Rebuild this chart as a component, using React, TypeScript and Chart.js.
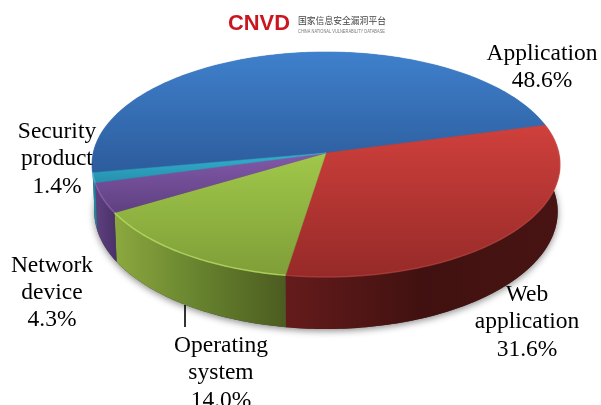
import React, { useEffect, useRef } from "react";
import { Chart, registerables } from "chart.js";

Chart.register(...registerables);

const categories = ["Application", "Web application", "Operating system", "Network device", "Security product"];
const values = [48.6, 31.6, 14.0, 4.3, 1.4];
const valueLabels = ["48.6%", "31.6%", "14.0%", "4.3%", "1.4%"];
const labelLines = [["Application"], ["Web", "application"], ["Operating", "system"], ["Network", "device"], ["Security", "product"]];

// Styling
const topColors = [["#3f80cc", "#2c5c9c"], ["#cf403c", "#962a28"], ["#a0c84a", "#7f9e38"], ["#8259aa", "#5f4080"], ["#33b0cf", "#2590ad"]];
const wallColors = [["#2a4f85", "#2a4f85"], ["#651b1b", "#401110", "#481413"], ["#8ca83f", "#66822e", "#4c5c20"], ["#5f4080", "#4a3168"], ["#2090a8", "#1d7d92"]];
const rimColors = ["rgba(90,140,210,0.15)", "rgba(215,90,85,0.35)", "rgba(185,220,100,0.8)", "rgba(150,110,190,0.6)", "rgba(100,200,225,0.6)"];
const labelCentres = [[542, 53.5, 27.5], [527, 294.5, 27.5], [221, 345.5, 27.5], [52, 265.5, 27], [57, 131.5, 27.5]];

// Projection of the unit disc to the screen (perspective view)
const APEX_X = 326;
const APEX_Y = 153;
const SCALE_X = 232.8;
const SCALE_Y = 111.3;
const TILT = 0.1022;
const DEPTH = 46.7;
const STEP = Math.PI / 180;

const project = (angle: number, r = 1, lower = false) => {
  const u = Math.cos(angle) * r;
  const v = Math.sin(angle) * r;
  const w = 1 - TILT * v;
  const x = APEX_X + (SCALE_X * u) / w;
  const y = APEX_Y + (SCALE_Y * v) / w;
  return lower ? [APEX_X + (x - APEX_X) * 0.99, y + DEPTH / w] : [x, y];
};

const arcPoints = (a0: number, a1: number, lower = false) => {
  const n = Math.max(2, Math.ceil((a1 - a0) / STEP));
  const pts: number[][] = [];
  for (let i = 0; i <= n; i++) pts.push(project(a0 + ((a1 - a0) * i) / n, 1, lower));
  return pts;
};

const tracePoly = (ctx: CanvasRenderingContext2D, pts: number[][]) => {
  ctx.beginPath();
  pts.forEach((p, i) => (i ? ctx.lineTo(p[0], p[1]) : ctx.moveTo(p[0], p[1])));
  ctx.closePath();
};

const gradient = (ctx: CanvasRenderingContext2D, x0: number, y0: number, x1: number, y1: number, colors: string[]) => {
  const g = ctx.createLinearGradient(x0, y0, x1, y1);
  colors.forEach((c, i) => g.addColorStop(i / (colors.length - 1), c));
  return g;
};

const pie3d = {
  id: "pie3d",
  beforeDatasetDraw: () => false,
  afterDatasetsDraw(chart: any) {
    const ctx: CanvasRenderingContext2D = chart.ctx;
    const arcs = chart.getDatasetMeta(0).data as any[];
    ctx.save();

    // soft shadow below the pie
    ctx.save();
    ctx.shadowColor = "rgba(0,0,0,0.45)";
    ctx.shadowBlur = 7;
    ctx.shadowOffsetY = 2;
    ctx.fillStyle = "#444";
    tracePoly(ctx, arcPoints(0, Math.PI * 2, true));
    ctx.fill();
    ctx.restore();

    // walls
    arcs.forEach((arc, i) => {
      const top = arcPoints(arc.startAngle, arc.endAngle);
      const low = arcPoints(arc.startAngle, arc.endAngle, true).reverse();
      const all = [...top, ...low];
      const xs = all.map((p) => p[0]);
      ctx.fillStyle = gradient(ctx, Math.min(...xs), 0, Math.max(...xs), 0, wallColors[i]);
      tracePoly(ctx, all);
      ctx.fill();
    });

    // top faces
    arcs.forEach((arc, i) => {
      const pts = [[APEX_X, APEX_Y], ...arcPoints(arc.startAngle, arc.endAngle)];
      const ys = pts.map((p) => p[1]);
      ctx.fillStyle = gradient(ctx, 0, Math.min(...ys), 0, Math.max(...ys), topColors[i]);
      tracePoly(ctx, pts);
      ctx.fill();
      ctx.strokeStyle = ctx.fillStyle;
      ctx.lineWidth = 0.5;
      ctx.stroke();
    });

    // rim highlight
    arcs.forEach((arc, i) => {
      const pts = arcPoints(arc.startAngle, arc.endAngle);
      ctx.beginPath();
      pts.forEach((p, k) => (k ? ctx.lineTo(p[0], p[1]) : ctx.moveTo(p[0], p[1])));
      ctx.strokeStyle = rimColors[i];
      ctx.lineWidth = 1.5;
      ctx.stroke();
    });

    // leader line
    ctx.strokeStyle = "#000";
    ctx.lineWidth = 1.6;
    ctx.beginPath();
    ctx.moveTo(185, 305);
    ctx.lineTo(185, 327);
    ctx.stroke();

    // labels
    ctx.fillStyle = "#000";
    ctx.font = '23.5px "Liberation Serif"';
    ctx.textAlign = "center";
    ctx.textBaseline = "middle";
    categories.forEach((_, i) => {
      const [cx, cy, lead] = labelCentres[i];
      [...labelLines[i], valueLabels[i]].forEach((t, k) => ctx.fillText(t, cx, cy + k * lead));
    });

    // logo
    ctx.textAlign = "left";
    ctx.textBaseline = "alphabetic";
    ctx.fillStyle = "#c9161f";
    ctx.font = 'bold 22px "Liberation Sans"';
    ctx.fillText("CNVD", 228, 30, 62);
    ctx.fillStyle = "#444";
    ctx.font = '9.5px "Noto Sans CJK SC"';
    ctx.fillText("国家信息安全漏洞平台", 298, 24, 88);
    ctx.fillStyle = "#777";
    ctx.font = '4.5px "Liberation Sans"';
    ctx.fillText("CHINA NATIONAL VULNERABILITY DATABASE", 298, 33, 87);
    ctx.restore();
  },
};

export default function App() {
  const ref = useRef<HTMLCanvasElement>(null);
  useEffect(() => {
    document.body.style.margin = "0";
    const chart = new Chart(ref.current!, {
      type: "pie",
      data: { labels: categories, datasets: [{ data: values, borderWidth: 0 }] },
      options: {
        responsive: false,
        animation: false,
        rotation: 260,
        plugins: { legend: { display: false }, tooltip: { enabled: false } },
      },
      plugins: [pie3d],
    } as any);
    return () => chart.destroy();
  }, []);
  return <canvas ref={ref} width={601} height={405} style={{ display: "block", background: "#fff" }} />;
}
